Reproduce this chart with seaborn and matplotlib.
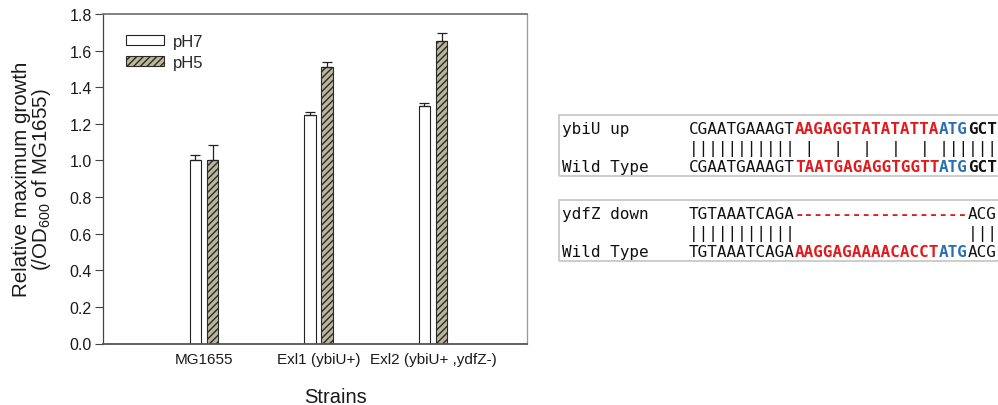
import numpy as np
import pandas as pd
import matplotlib
matplotlib.use("Agg")
import matplotlib.pyplot as plt
import seaborn as sns
from matplotlib.patches import Patch, Rectangle

# ---- bar chart data ----
strains = ["MG1655", "Exl1 (ybiU+)", "Exl2 (ybiU+ ,ydfZ-)"]
conditions = ["pH7", "pH5"]
growth_ph7 = [1.00, 1.25, 1.30]
growth_ph5 = [1.00, 1.51, 1.65]
err_ph7 = [0.03, 0.015, 0.012]
err_ph5 = [0.085, 0.027, 0.045]
y_ticks = [0.0, 0.2, 0.4, 0.6, 0.8, 1.0, 1.2, 1.4, 1.6, 1.8]

# ---- sequence alignments: (text, style) segments ----
ybiU_up = [("CGAATGAAAGT", "plain"), ("AAGAGGTATATATTA", "red"),
           ("ATG", "blue"), ("GCT", "bold")]
ybiU_wt = [("CGAATGAAAGT", "plain"), ("TAATGAGAGGTGGTT", "red"),
           ("ATG", "blue"), ("GCT", "bold")]
ydfZ_down = [("TGTAAATCAGA", "plain"), ("------------------", "red"),
             ("ACG", "plain")]
ydfZ_wt = [("TGTAAATCAGA", "plain"), ("AAGGAGAAAACACCT", "red"),
           ("ATG", "blue"), ("ACG", "plain")]
alignments = [("ybiU up", ybiU_up, "Wild Type", ybiU_wt),
              ("ydfZ down", ydfZ_down, "Wild Type", ydfZ_wt)]

sns.set_theme(style="white")
plt.rcParams["font.family"] = ["Liberation Sans", "DejaVu Sans"]
plt.rcParams["mathtext.default"] = "regular"
plt.rcParams["hatch.linewidth"] = 1.0

W, H = 998, 406
fig = plt.figure(figsize=(W / 100, H / 100), dpi=100)
ax = fig.add_axes([103 / W, 1 - 344.5 / H, 424 / W, 329.5 / H])

df = pd.DataFrame({
    "Strain": strains * 2,
    "Condition": ["pH7"] * len(strains) + ["pH5"] * len(strains),
    "Growth": growth_ph7 + growth_ph5,
})

hatch_face = "#bdb89a"
hatch_line = "#2a2a26"
line_col = "#222222"
sns.barplot(data=df, x="Strain", y="Growth", hue="Condition",
            order=strains, hue_order=conditions, width=0.3, gap=0.33,
            errorbar=None, palette=["white", hatch_face],
            edgecolor=line_col, linewidth=0.8, legend=False, ax=ax)

for bar in ax.containers[1]:
    bar.set_hatch("/////")
    bar.set_edgecolor(hatch_line)

# upper-only error bars
for cont, vals, errs in zip(ax.containers, [growth_ph7, growth_ph5], [err_ph7, err_ph5]):
    xs = [b.get_x() + b.get_width() / 2 for b in cont]
    ax.errorbar(xs, vals, yerr=[np.zeros(len(errs)), errs], fmt="none",
                ecolor=line_col, elinewidth=0.9, capsize=3.8, capthick=0.9, zorder=3)

ax.set_xlim(-0.882, 2.821)
ax.set_ylim(0, 1.8)
ax.set_yticks(y_ticks)
ax.set_yticklabels([f"{v:.1f}" for v in y_ticks])
ax.tick_params(axis="y", direction="out", length=6, width=0.8, color="#444444",
               labelsize=11.5, pad=2, labelcolor="#1a1a1a", left=True)
ax.tick_params(axis="x", length=0, labelsize=11, pad=6, labelcolor="#1a1a1a")

for side, col, lw in [("left", "#444444", 0.9), ("bottom", "#555555", 1.3),
                      ("top", "#777777", 1.3), ("right", "#999999", 0.9)]:
    ax.spines[side].set_visible(True)
    ax.spines[side].set_color(col)
    ax.spines[side].set_linewidth(lw)

ax.set_ylabel("Relative maximum growth\n(/OD$_{600}$ of MG1655)",
              fontsize=14.8, linespacing=0.95, color="#1a1a1a")
ax.yaxis.set_label_coords((53 - 103) / 424, 0.5)
ax.set_xlabel("Strains", fontsize=14.5, color="#1a1a1a")
ax.xaxis.set_label_coords((336 - 103) / 424, -(388 - 344.5) / 329.5)

handles = [Patch(facecolor="white", edgecolor=line_col, linewidth=0.8, label="pH7"),
           Patch(facecolor=hatch_face, edgecolor=hatch_line, hatch="/////",
                 linewidth=0.8, label="pH5")]
ax.legend(handles=handles, loc="upper left",
          bbox_to_anchor=((126 - 103) / 424, 1 - (35 - 15) / 329.5),
          frameon=False, borderpad=0, borderaxespad=0, handlelength=2.3,
          handleheight=0.55, handletextpad=0.5, labelspacing=0.35, fontsize=12)

# ---- alignment boxes ----
mono = "DejaVu Sans Mono"
fs = 11.5
adv = 0.60205 * fs * 100 / 72  # character advance in pixels
styles = {"plain": ("#111111", "normal"), "bold": ("#111111", "bold"),
          "red": ("#e3191c", "bold"), "blue": ("#2b6fb3", "bold")}
label_x, seq_x = 561.5, 689.0


def fx(px):
    return px / W


def fy(py):
    return 1 - py / H


def draw_segments(segments, baseline):
    n = 0
    for text, style in segments:
        col, weight = styles[style]
        fig.text(fx(seq_x + n * adv), fy(baseline), text, family=mono,
                 fontsize=fs, color=col, fontweight=weight, va="baseline", ha="left")
        n += len(text)


def match_line(a, b):
    sa = "".join(t for t, _ in a)
    sb = "".join(t for t, _ in b)
    return "".join("|" if x == y and x != "-" else " " for x, y in zip(sa, sb))


box_tops = [116, 201]
for (lab1, seq1, lab2, seq2), top in zip(alignments, box_tops):
    base1, base2, base3 = top + 18, top + 37, top + 55.7
    fig.add_artist(Rectangle((fx(559), fy(top + 60.5)), (1010 - 559) / W, 60.5 / H,
                             transform=fig.transFigure, fill=False,
                             edgecolor="#c4c4c4", linewidth=1.2))
    fig.text(fx(label_x), fy(base1), lab1, family=mono, fontsize=fs,
             color="#111111", va="baseline", ha="left")
    draw_segments(seq1, base1)
    fig.text(fx(seq_x), fy(base2), match_line(seq1, seq2), family=mono,
             fontsize=fs, color="#111111", va="baseline", ha="left")
    fig.text(fx(label_x), fy(base3), lab2, family=mono, fontsize=fs,
             color="#111111", va="baseline", ha="left")
    draw_segments(seq2, base3)

fig.savefig("out.png", dpi=100)
